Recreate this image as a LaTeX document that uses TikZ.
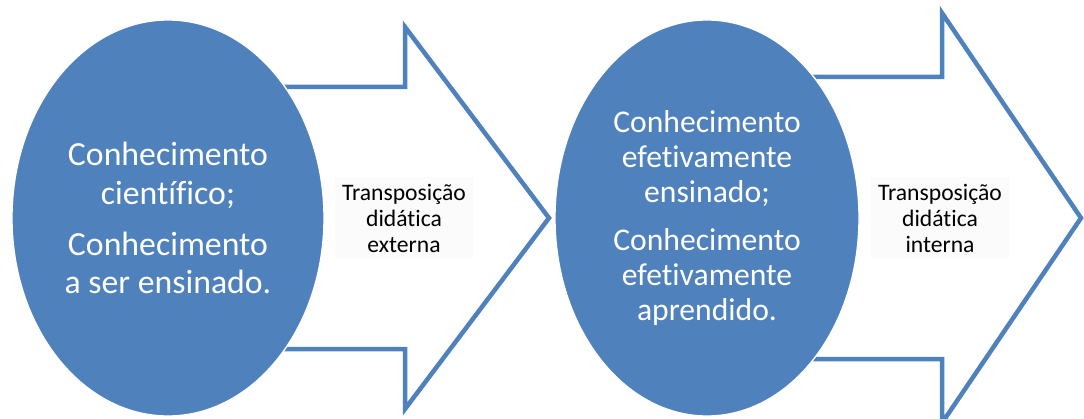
\documentclass[tikz,border=0pt]{standalone}
\usepackage{fontspec}
\setmainfont{Carlito}[Ligatures=NoCommon]
\usetikzlibrary{shapes.geometric}
\definecolor{ovalblue}{HTML}{4F81BD}
\tikzset{
  oval/.style={ellipse, fill=ovalblue, draw=white, line width=1pt, text=white, align=center, inner sep=0pt, minimum height=9.9cm},
  bigarrow/.style={draw=ovalblue, fill=white, line width=3.2pt, line join=miter},
  passo/.style={align=center, fill=black!1.5, inner sep=5pt, font=\fontsize{16.8}{18.5}\selectfont}
}

\begin{document}
\begin{tikzpicture}[x=0.025cm,y=-0.025cm]
\useasboundingbox (0,0) rectangle (1084,419);

\path (250,87) coordinate(A1);
\path (405,87) coordinate(B1);
\path (405,27) coordinate(C1);
\path (549,218) coordinate(D1);
\path (405,409) coordinate(E1);
\path (405,349) coordinate(F1);
\path (250,349) coordinate(G1);

\path (780,77) coordinate(A2);
\path (942,77) coordinate(B2);
\path (942,13) coordinate(C2);
\path (1081,218) coordinate(D2);
\path (942,423) coordinate(E2);
\path (942,359) coordinate(F2);
\path (780,359) coordinate(G2);

\draw [bigarrow] (A1)--(B1)--(C1)--(D1)--(E1)--(F1)--(G1)--cycle;
\draw [bigarrow] (A2)--(B2)--(C2)--(D2)--(E2)--(F2)--(G2)--cycle;

\node [oval, minimum width=7.8cm, font=\fontsize{24}{27.7}\selectfont] (cientifico) at (168,218)
  {Conhecimento\\científico;\\[8.5pt]Conhecimento\\a ser ensinado.};
\node [oval, minimum width=7.6cm, font=\fontsize{22.5}{24.9}\selectfont] (ensinado) at (707,218)
  {Conhecimento\\efetivamente\\ensinado;\\[9.2pt]Conhecimento\\efetivamente\\aprendido.};

\node [passo] (externa) at (404,218) {Transposição\\didática\\externa};
\node [passo] (interna) at (940,218) {Transposição\\didática\\interna};
\end{tikzpicture}
\end{document}
